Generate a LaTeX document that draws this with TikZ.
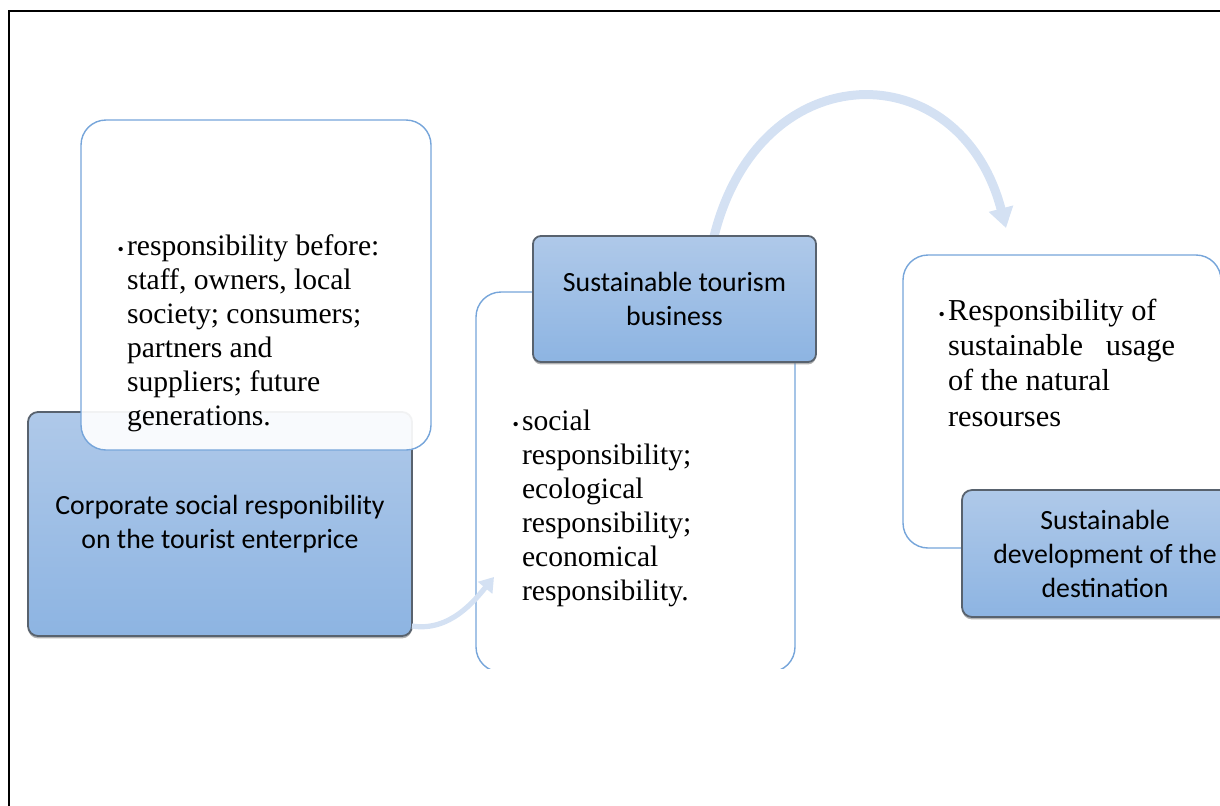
\documentclass[tikz,border=0pt]{standalone}
\usepackage{fontspec}
\setmainfont{Liberation Serif}
\setsansfont{Carlito}
\usetikzlibrary{arrows.meta, shapes, positioning, calc, shadows}
\definecolor{boxtop}{RGB}{175,201,233}
\definecolor{boxbot}{RGB}{141,180,226}
\definecolor{boxline}{RGB}{88,98,110}
\definecolor{listline}{RGB}{118,165,218}
\definecolor{flow}{RGB}{212,225,243}
\newcommand{\blt}{\llap{{\fontsize{9}{9}\selectfont\textbullet}\hspace{1.5pt}}}

\begin{document}
\begin{tikzpicture}[
  x=0.5pt, y=-0.5pt,
  every node/.style={inner sep=0pt, outer sep=0pt},
  headbox/.style={rectangle, draw=boxline, line width=0.9pt, rounded corners=5pt,
                  top color=boxtop, bottom color=boxbot, align=center,
                  drop shadow={shadow xshift=0pt, shadow yshift=-1.2pt, opacity=0.6},
                  anchor=north west, font=\sffamily\fontsize{13.9}{17}\selectfont},
  listbox/.style={rectangle, draw=listline, line width=0.7pt, rounded corners=12.5pt,
                  fill=white, anchor=north west},
  listtext/.style={align=left, anchor=base west, font=\fontsize{14.8}{17}\selectfont},
  flowarr/.style={draw=flow, line width=4pt, -{Triangle[length=10pt, width=12pt]}},
]
\useasboundingbox (0,0) rectangle (1220,805);
\draw[line width=1.4pt] (9,11) rectangle (1240,830);

% left group
\node[headbox, minimum width=192pt, minimum height=112pt] (csr) at (28,412)
  {Corporate social responibility\\on the tourist enterprice};
\node[listbox, fill opacity=0.92, minimum width=175pt, minimum height=165pt] (before) at (81,120) {};
\node[listtext] (beforetxt) at (127,425) {\blt responsibility before:\\
  staff, owners, local\\society; consumers;\\partners and\\suppliers; future\\generations.};

% middle group
\begin{scope}
  \clip (0,0) rectangle (1220,668);
  \node[listbox, minimum width=159.5pt, minimum height=190pt] (kinds) at (476,292) {};
\end{scope}
\coordinate (bigtip) at (1006,228);
\draw[flowarr, line width=4.5pt] ($(533,236)!0.64!(816,236)$) .. controls (760,52) and (960,52) .. (bigtip);
\node[headbox, rounded corners=4pt, minimum width=141.5pt, minimum height=63pt] (stb) at (533,236)
  {Sustainable tourism\\business};
\node[listtext] (kindstxt) at (522,600) {\blt social\\responsibility;\\ecological\\
  responsibility;\\economical\\responsibility.};

% right group
\node[listbox, minimum width=159pt, minimum height=146.5pt] (natural) at (903,255) {};
\node[listtext, font=\fontsize{15.2}{17.6}\selectfont] (naturaltxt) at (948,426)
  {\blt Responsibility of\\sustainable\ \ \ usage\\of the natural\\resourses};
\node[headbox, minimum width=143pt, minimum height=63.5pt] (sdd) at (962,490)
  {Sustainable\\development of the\\destination};

% small connector
\coordinate (smalltip) at (494,577);
\draw[flowarr, line width=2.6pt, -{Triangle[length=7pt, width=9pt]}]
  ($(csr.south east)+(0,-10)$) .. controls (450,632) and (475,600) .. (smalltip);
\end{tikzpicture}
\end{document}
